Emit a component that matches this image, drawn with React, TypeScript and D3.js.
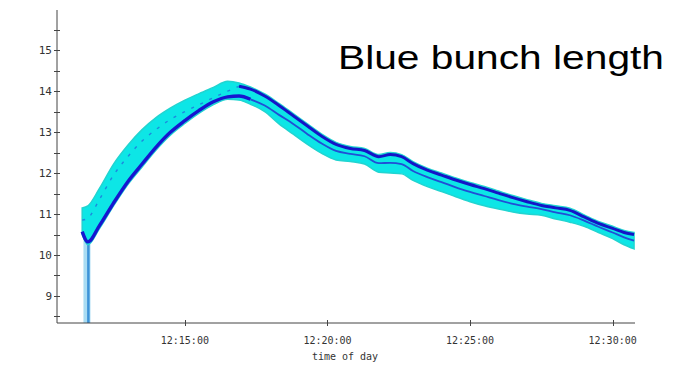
import React, { useEffect, useRef } from 'react';
import * as d3 from 'd3';

// sample times (time of day)
const times = [
  '12:11:24', '12:11:36', '12:12:00', '12:12:30', '12:13:00', '12:13:30', '12:14:00',
  '12:14:30', '12:15:00', '12:15:30', '12:16:00', '12:16:30', '12:16:54', '12:17:18',
  '12:17:48', '12:18:18', '12:18:48', '12:19:18', '12:19:48', '12:20:18', '12:20:48',
  '12:21:18', '12:21:48', '12:22:12', '12:22:36', '12:23:00', '12:23:30', '12:24:00',
  '12:24:30', '12:25:00', '12:25:30', '12:26:00', '12:26:30', '12:27:00', '12:27:30',
  '12:28:00', '12:28:30', '12:29:00', '12:29:30', '12:30:00', '12:30:24', '12:30:45',
];

// upper / lower envelope of the cyan bunches
const bandUpper = [
  11.15, 11.2, 11.62, 12.22, 12.68, 13.06, 13.36, 13.59, 13.78, 13.94, 14.09, 14.24, 14.2, 14.1,
  13.93, 13.7, 13.45, 13.2, 12.95, 12.75, 12.65, 12.6, 12.45, 12.5, 12.45, 12.28, 12.12, 12.0,
  11.88, 11.77, 11.67, 11.56, 11.45, 11.35, 11.26, 11.2, 11.14, 10.98, 10.82, 10.7, 10.6, 10.55,
];
const bandLower = [
  10.5, 10.25, 10.64, 11.2, 11.72, 12.15, 12.57, 12.93, 13.21, 13.46, 13.67, 13.8, 13.78, 13.68,
  13.5, 13.2, 12.95, 12.7, 12.48, 12.32, 12.28, 12.22, 12.02, 12.0, 11.98, 11.82, 11.67, 11.55,
  11.42, 11.3, 11.2, 11.12, 11.05, 11.0, 10.97, 10.88, 10.8, 10.7, 10.55, 10.4, 10.25, 10.15,
];

// dark blue bunches
const blueA = [
  10.57, 10.32, 10.71, 11.27, 11.79, 12.22, 12.64, 13.0, 13.28, 13.53, 13.74, 13.86, 13.88, 13.8,
  13.65, 13.42, 13.2, 12.95, 12.72, 12.54, 12.47, 12.41, 12.24, 12.25, 12.22, 12.05, 11.9, 11.78,
  11.65, 11.54, 11.44, 11.34, 11.25, 11.18, 11.12, 11.04, 10.97, 10.84, 10.69, 10.55, 10.43, 10.35,
];
const blueB = [
  10.85, 10.9, 11.35, 11.95, 12.4, 12.78, 13.07, 13.31, 13.5, 13.67, 13.84, 14.0, 14.12, 14.05,
  13.88, 13.65, 13.4, 13.15, 12.9, 12.7, 12.6, 12.55, 12.4, 12.45, 12.4, 12.23, 12.07, 11.95,
  11.83, 11.72, 11.62, 11.51, 11.4, 11.3, 11.21, 11.15, 11.09, 10.93, 10.77, 10.65, 10.55, 10.5,
];
const peakIndex = 12;

// first samples dropping to zero
const dropTimes = ['12:11:34', '12:11:37'];
const dropFrom = [10.5, 10.3];
const dropTo = [0, 0];

const yMajorTicks = [9, 10, 11, 12, 13, 14, 15];
const yMinorTicks = [8.5, 9.5, 10.5, 11.5, 12.5, 13.5, 14.5, 15.5];
const xTickLabels = ['12:15:00', '12:20:00', '12:25:00', '12:30:00'];
const xDomain = ['12:10:31', '12:30:47'];
const yDomain = [8.34, 15.98];

const chartTitle = 'Blue bunch length';
const xTitle = 'time of day';

const App = () => {
  const svgRef = useRef<SVGSVGElement>(null);

  useEffect(() => {
    const svg = d3.select(svgRef.current);
    svg.selectAll('*').remove();

    const parse = d3.timeParse('%H:%M:%S');
    const T = times.map(s => parse(s) as Date);

    const left = 57, right = 635, top = 10, bottom = 323;

    const x = d3.scaleTime()
      .domain(xDomain.map(s => parse(s) as Date))
      .range([left, right]);
    const y = d3.scaleLinear().domain(yDomain).range([bottom, top]);

    const defs = svg.append('defs');
    defs.append('clipPath').attr('id', 'plot')
      .append('rect')
      .attr('x', left).attr('y', top)
      .attr('width', right - left).attr('height', bottom - top);

    const plot = svg.append('g').attr('clip-path', 'url(#plot)');

    // drop-out lines
    const dropColors = ['#a9dcf3', '#3d93d8'];
    const dropWidths = [7, 2.5];
    dropTimes.forEach((s, i) => {
      const t = parse(s) as Date;
      plot.append('line')
        .attr('x1', x(t)).attr('x2', x(t))
        .attr('y1', y(dropFrom[i])).attr('y2', y(dropTo[i]))
        .attr('stroke', dropColors[i])
        .attr('stroke-width', dropWidths[i]);
    });

    const idx = d3.range(T.length);

    // cyan envelope
    const band = d3.area<number>()
      .x(i => x(T[i]))
      .y0(i => y(bandLower[i]))
      .y1(i => y(bandUpper[i]))
      .curve(d3.curveMonotoneX);

    plot.append('path')
      .datum(idx)
      .attr('d', band)
      .attr('fill', '#0de6e6')
      .attr('stroke', '#22d4d0')
      .attr('stroke-width', 1.5);

    const lineOf = (vals: number[]) => d3.line<number>()
      .x(i => x(T[i]))
      .y(i => y(vals[i]))
      .curve(d3.curveMonotoneX);

    // blue A: lower edge before peak, thinner middle trace after
    plot.append('path')
      .datum(idx.filter(i => i <= peakIndex + 1))
      .attr('d', lineOf(blueA))
      .attr('fill', 'none')
      .attr('stroke', '#1616d0')
      .attr('stroke-width', 3.4);

    plot.append('path')
      .datum(idx.filter(i => i >= peakIndex + 1))
      .attr('d', lineOf(blueA))
      .attr('fill', 'none')
      .attr('stroke', '#2434d4')
      .attr('stroke-width', 1.8)
      .attr('opacity', 0.85);

    // blue B: faint inside band before peak, upper edge after
    plot.append('path')
      .datum(idx.filter(i => i <= peakIndex))
      .attr('d', lineOf(blueB))
      .attr('fill', 'none')
      .attr('stroke', '#2a3ad8')
      .attr('stroke-width', 1.4)
      .attr('stroke-dasharray', '3 7')
      .attr('opacity', 0.55);

    plot.append('path')
      .datum(idx.filter(i => i >= peakIndex))
      .attr('d', lineOf(blueB))
      .attr('fill', 'none')
      .attr('stroke', '#1414c8')
      .attr('stroke-width', 3);

    // axes
    const axisColor = '#444';
    const labelColor = '#333';
    const mono = '"DejaVu Sans Mono", "Liberation Mono", monospace';

    svg.append('line')
      .attr('x1', left).attr('x2', left)
      .attr('y1', top).attr('y2', bottom)
      .attr('stroke', axisColor).attr('stroke-width', 1);
    svg.append('line')
      .attr('x1', left).attr('x2', right)
      .attr('y1', bottom).attr('y2', bottom)
      .attr('stroke', axisColor).attr('stroke-width', 1);

    svg.selectAll('.ytick')
      .data([...yMajorTicks, ...yMinorTicks])
      .enter()
      .append('line')
      .attr('class', 'ytick')
      .attr('x1', left - 3).attr('x2', left + 3)
      .attr('y1', d => Math.round(y(d)) + 0.5).attr('y2', d => Math.round(y(d)) + 0.5)
      .attr('stroke', axisColor).attr('stroke-width', 1);

    svg.selectAll('.ylabel')
      .data(yMajorTicks)
      .enter()
      .append('text')
      .attr('class', 'ylabel')
      .attr('x', left - 5)
      .attr('y', d => y(d))
      .attr('dy', '0.35em')
      .attr('text-anchor', 'end')
      .style('font-family', mono)
      .style('font-size', '11px')
      .style('fill', labelColor)
      .text(d => d);

    const xt = xTickLabels.map(s => parse(s) as Date);
    svg.selectAll('.xtick')
      .data(xt)
      .enter()
      .append('line')
      .attr('class', 'xtick')
      .attr('x1', d => Math.round(x(d)) + 0.5).attr('x2', d => Math.round(x(d)) + 0.5)
      .attr('y1', bottom - 3).attr('y2', bottom + 3)
      .attr('stroke', axisColor).attr('stroke-width', 1);

    svg.selectAll('.xlabel')
      .data(xt)
      .enter()
      .append('text')
      .attr('class', 'xlabel')
      .attr('x', d => x(d))
      .attr('y', 344)
      .attr('text-anchor', 'middle')
      .style('font-family', mono)
      .style('font-size', '10px')
      .style('fill', labelColor)
      .text(d => d3.timeFormat('%H:%M:%S')(d));

    svg.append('text')
      .attr('x', 345)
      .attr('y', 360)
      .attr('text-anchor', 'middle')
      .style('font-family', mono)
      .style('font-size', '10px')
      .style('fill', labelColor)
      .text(xTitle);

    svg.append('text')
      .attr('x', 338)
      .attr('y', 69)
      .attr('textLength', 326)
      .attr('lengthAdjust', 'spacingAndGlyphs')
      .style('font-family', '"Liberation Sans", Arial, sans-serif')
      .style('font-size', '33px')
      .style('fill', '#000')
      .text(chartTitle);
  }, []);

  return (
    <svg
      ref={svgRef}
      width={699}
      height={365}
      style={{ position: 'absolute', left: 0, top: 0, background: '#fff' }}
    />
  );
};

export default App;
